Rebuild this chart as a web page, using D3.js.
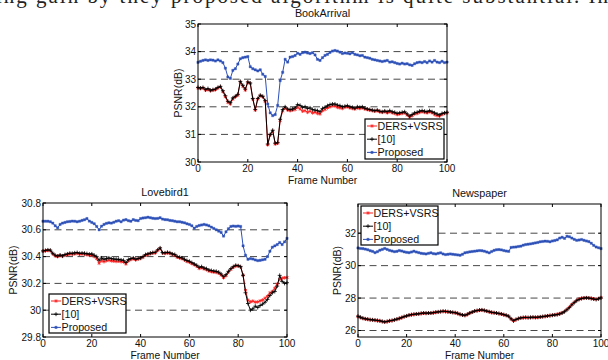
<!DOCTYPE html>
<html>
<head>
<meta charset="utf-8">
<script src="https://cdn.jsdelivr.net/npm/d3@7"></script>
<style>
  body { margin: 0; background: #fff; }
  svg { display: block; font-family: "Liberation Sans", Arial, sans-serif; }
</style>
</head>
<body>
<div id="container"></div>
<script>
// frame numbers 0..100, one marker per frame
const frames = d3.range(0, 101);
const seriesNames = ['DERS+VSRS', '[10]', 'Proposed'];
const xTicks = [0, 20, 40, 60, 80, 100];

// BookArrival
const bookDers = [32.68,32.66,32.68,32.60,32.62,32.58,32.60,32.62,32.68,32.72,32.55,32.36,32.16,32.10,32.28,32.36,32.42,32.90,32.74,32.60,
  32.88,32.84,32.28,31.88,32.28,32.40,32.36,32.20,30.62,30.98,31.12,30.65,30.68,31.50,31.85,31.95,31.88,31.86,31.88,31.90,
  31.98,31.92,31.84,31.86,31.80,31.84,31.78,31.80,31.76,31.74,31.86,31.90,31.96,32.00,32.04,32.02,31.98,31.96,31.94,31.98,
  32.00,31.96,31.94,31.92,31.96,31.94,31.96,31.92,31.90,31.88,31.86,31.84,31.86,31.82,31.80,31.82,31.78,31.82,31.78,31.76,
  31.72,31.74,31.76,31.78,31.70,31.62,31.68,31.74,31.76,31.80,31.82,31.80,31.78,31.82,31.78,31.72,31.68,31.66,31.72,31.76,31.78];
const bookRef = [32.70,32.68,32.70,32.62,32.66,32.60,32.62,32.64,32.70,32.74,32.58,32.40,32.20,32.15,32.32,32.38,32.45,32.92,32.78,32.64,
  32.90,32.86,32.30,31.90,32.30,32.42,32.38,32.22,30.65,31.00,31.15,30.68,30.70,31.55,31.90,32.00,31.92,31.90,31.92,31.96,
  32.08,32.05,31.98,32.00,31.94,31.96,31.90,31.88,31.86,31.82,31.94,31.98,32.04,32.08,32.10,32.10,32.06,32.04,32.00,32.02,
  32.04,32.00,31.98,31.95,32.00,31.98,32.00,31.95,31.92,31.90,31.88,31.86,31.88,31.84,31.82,31.85,31.82,31.86,31.82,31.80,
  31.76,31.78,31.80,31.82,31.74,31.66,31.72,31.78,31.80,31.84,31.86,31.84,31.82,31.86,31.82,31.78,31.74,31.70,31.76,31.78,31.80];
const bookProp = [33.61,33.65,33.68,33.70,33.68,33.70,33.69,33.66,33.70,33.66,33.60,33.40,33.08,33.03,33.32,33.38,33.55,33.74,33.78,33.80,
  33.82,33.45,33.38,33.34,33.30,33.34,33.18,33.10,32.10,31.78,31.68,31.72,32.05,32.95,33.25,33.72,33.62,33.80,33.82,33.86,
  33.94,33.90,33.96,33.98,33.95,33.93,33.96,33.88,33.72,33.68,33.78,33.86,33.90,33.97,34.02,34.04,34.02,33.98,33.93,33.95,
  33.94,33.92,33.96,33.90,33.88,33.85,33.86,33.80,33.78,33.76,33.72,33.70,33.68,33.66,33.64,33.66,33.68,33.62,33.63,33.60,
  33.57,33.55,33.58,33.55,33.56,33.52,33.50,33.56,33.60,33.62,33.60,33.64,33.60,33.66,33.62,33.68,33.62,33.60,33.65,33.60,33.62];

// Lovebird1
const loveDers = [30.440,30.444,30.446,30.444,30.420,30.406,30.400,30.408,30.402,30.410,30.414,30.420,30.418,30.420,30.424,30.418,30.420,30.418,30.414,30.410,
  30.412,30.400,30.385,30.350,30.370,30.362,30.370,30.372,30.368,30.366,30.364,30.366,30.362,30.360,30.345,30.368,30.378,30.384,30.376,30.382,
  30.386,30.396,30.410,30.416,30.422,30.426,30.428,30.446,30.460,30.426,30.424,30.428,30.424,30.416,30.410,30.396,30.390,30.384,30.374,30.364,
  30.358,30.348,30.338,30.328,30.312,30.318,30.308,30.302,30.292,30.288,30.284,30.282,30.276,30.262,30.242,30.258,30.284,30.305,30.320,30.330,
  30.330,30.322,30.262,30.150,30.075,30.062,30.068,30.060,30.062,30.070,30.076,30.090,30.105,30.130,30.140,30.165,30.195,30.230,30.240,30.242,30.244];
const loveRef = [30.442,30.446,30.450,30.448,30.425,30.410,30.404,30.412,30.405,30.415,30.420,30.425,30.424,30.428,30.430,30.424,30.426,30.425,30.422,30.418,
  30.420,30.410,30.400,30.373,30.390,30.380,30.385,30.390,30.385,30.382,30.380,30.380,30.375,30.372,30.356,30.378,30.385,30.390,30.380,30.386,
  30.390,30.400,30.415,30.420,30.426,30.430,30.432,30.450,30.465,30.430,30.428,30.432,30.428,30.420,30.416,30.400,30.395,30.390,30.380,30.370,
  30.365,30.355,30.345,30.335,30.320,30.325,30.315,30.310,30.300,30.296,30.292,30.290,30.284,30.270,30.250,30.265,30.290,30.310,30.325,30.335,
  30.332,30.325,30.260,30.130,30.050,30.000,30.010,30.030,30.020,30.035,30.045,30.060,30.080,30.110,30.130,30.140,30.180,30.260,30.215,30.200,30.205];
const loveProp = [30.664,30.664,30.664,30.660,30.650,30.630,30.615,30.640,30.650,30.655,30.660,30.662,30.665,30.664,30.660,30.664,30.670,30.675,30.684,30.665,
  30.655,30.645,30.625,30.600,30.627,30.640,30.648,30.652,30.650,30.656,30.664,30.668,30.660,30.672,30.676,30.668,30.664,30.676,30.670,30.668,
  30.684,30.688,30.690,30.694,30.690,30.686,30.684,30.685,30.690,30.680,30.676,30.675,30.670,30.668,30.664,30.660,30.660,30.656,30.652,30.645,
  30.640,30.630,30.612,30.625,30.632,30.636,30.640,30.636,30.630,30.620,30.610,30.600,30.590,30.580,30.553,30.585,30.608,30.625,30.628,30.626,
  30.628,30.625,30.480,30.410,30.380,30.385,30.382,30.375,30.370,30.372,30.376,30.380,30.400,30.440,30.470,30.480,30.490,30.505,30.490,30.510,30.536];

// Newspaper
const newsDers = [26.86,26.80,26.75,26.71,26.69,26.66,26.65,26.63,26.61,26.59,26.55,26.52,26.55,26.59,26.61,26.65,26.69,26.74,26.79,26.85,
  26.89,26.94,26.97,26.99,27.01,27.02,27.05,27.07,27.06,27.07,27.07,27.09,27.12,27.14,27.16,27.18,27.17,27.15,27.13,27.11,
  27.09,27.05,26.99,26.95,26.93,26.99,27.07,27.13,27.19,27.22,27.25,27.26,27.23,27.19,27.15,27.11,27.09,27.07,27.04,27.01,
  26.97,26.93,26.87,26.71,26.59,26.67,26.73,26.77,26.79,26.80,26.79,26.80,26.81,26.80,26.81,26.83,26.85,26.87,26.90,26.92,
  26.95,26.97,27.00,27.04,27.10,27.18,27.30,27.44,27.60,27.74,27.86,27.94,27.98,28.01,28.02,28.01,27.98,27.95,27.93,27.97,28.03];
const newsRef = [26.88,26.82,26.76,26.72,26.70,26.67,26.66,26.64,26.62,26.60,26.56,26.53,26.56,26.60,26.62,26.66,26.70,26.75,26.80,26.86,
  26.90,26.95,26.98,27.00,27.02,27.03,27.06,27.08,27.07,27.08,27.08,27.10,27.13,27.15,27.17,27.19,27.18,27.16,27.14,27.12,
  27.10,27.06,27.00,26.96,26.94,27.00,27.08,27.14,27.20,27.23,27.26,27.27,27.24,27.20,27.16,27.12,27.10,27.08,27.05,27.02,
  26.98,26.94,26.88,26.72,26.60,26.68,26.74,26.78,26.80,26.81,26.80,26.81,26.82,26.81,26.82,26.84,26.86,26.88,26.90,26.92,
  26.94,26.96,26.98,27.02,27.08,27.16,27.28,27.42,27.58,27.72,27.84,27.92,27.97,28.00,28.01,28.00,27.97,27.94,27.91,27.95,28.01];
const newsProp = [31.09,31.06,31.05,31.02,30.98,30.92,30.88,30.80,30.86,30.95,31.00,31.06,31.00,30.94,30.90,30.86,30.88,30.93,30.90,30.85,
  30.82,30.80,30.84,30.89,30.84,30.80,30.76,30.74,30.72,30.76,30.79,30.74,30.72,30.76,30.79,30.72,30.68,30.70,30.72,30.70,
  30.68,30.66,30.64,30.70,30.79,30.82,30.85,30.87,30.89,30.91,30.93,30.92,30.89,30.84,30.79,30.87,30.94,30.98,30.99,30.97,
  30.93,30.90,30.88,31.12,31.14,31.15,31.18,31.20,31.26,31.30,31.32,31.34,31.37,31.40,31.43,31.47,31.49,31.51,31.50,31.47,
  31.52,31.55,31.59,31.70,31.75,31.68,31.81,31.78,31.70,31.62,31.56,31.58,31.61,31.56,31.52,31.48,31.38,31.25,31.15,31.10,31.05];

const seriesStyle = [
  { color: '#ff1f1f', symbol: d3.symbolAsterisk, size: 9, fill: false },
  { color: '#000000', symbol: d3.symbolPlus, size: 6, fill: false },
  { color: '#2d50b8', symbol: d3.symbolSquare, size: 5, fill: true }
];

const svg = d3.select('#container').append('svg')
  .attr('width', 608).attr('height', 360);
svg.append('rect').attr('width', 608).attr('height', 360).attr('fill', '#fff');

// tail of the paper's text line, cut by the crop
svg.append('text')
  .attr('x', -4).attr('y', 2.5)
  .attr('font-family', '"Liberation Serif", "Times New Roman", serif')
  .attr('font-size', 21)
  .attr('fill', '#222')
  .attr('textLength', 612)
  .text('ing gain by they proposed algorithm is quite substantial. In');

function drawPanel(p) {
  const x = d3.scaleLinear().domain([0, 100]).range([p.x0, p.x1]);
  const y = d3.scaleLinear().domain(p.yDomain).range([p.y1, p.y0]);
  const g = svg.append('g');

  // dashed horizontal grid at inner ticks
  g.selectAll('line.grid')
    .data(p.yTicks.filter(t => t > p.yDomain[0] && t < p.yDomain[1]))
    .join('line')
    .attr('x1', p.x0).attr('x2', p.x1)
    .attr('y1', d => y(d)).attr('y2', d => y(d))
    .attr('stroke', '#474747').attr('stroke-width', 1)
    .attr('stroke-dasharray', '7,4.5');

  // series
  const line = d3.line().x((d, i) => x(frames[i])).y(d => y(d));
  p.series.forEach((s, k) => {
    const st = seriesStyle[k];
    g.append('path').datum(s)
      .attr('fill', 'none').attr('stroke', st.color).attr('stroke-width', 1)
      .attr('d', line);
    const sym = d3.symbol().type(st.symbol).size(st.size);
    g.selectAll(null).data(s).join('path')
      .attr('transform', (d, i) => `translate(${x(frames[i])},${y(d)})`)
      .attr('d', sym)
      .attr('fill', st.fill ? st.color : 'none')
      .attr('stroke', st.color).attr('stroke-width', st.fill ? 0.4 : 0.8);
  });

  // box
  g.append('rect')
    .attr('x', p.x0).attr('y', p.y0)
    .attr('width', p.x1 - p.x0).attr('height', p.y1 - p.y0)
    .attr('fill', 'none').attr('stroke', '#000').attr('stroke-width', 1);

  // inward ticks on all sides
  const tl = 3;
  xTicks.forEach(t => {
    g.append('line').attr('x1', x(t)).attr('x2', x(t)).attr('y1', p.y1).attr('y2', p.y1 - tl).attr('stroke', '#000');
    g.append('line').attr('x1', x(t)).attr('x2', x(t)).attr('y1', p.y0).attr('y2', p.y0 + tl).attr('stroke', '#000');
  });
  p.yTicks.forEach(t => {
    g.append('line').attr('x1', p.x0).attr('x2', p.x0 + tl).attr('y1', y(t)).attr('y2', y(t)).attr('stroke', '#000');
    g.append('line').attr('x1', p.x1).attr('x2', p.x1 - tl).attr('y1', y(t)).attr('y2', y(t)).attr('stroke', '#000');
  });

  // tick labels
  g.selectAll('text.xt').data(xTicks).join('text')
    .attr('x', d => x(d)).attr('y', p.y1 + 10)
    .attr('text-anchor', 'middle').attr('font-size', 10).attr('fill', '#111')
    .text(d => d);
  g.selectAll('text.yt').data(p.yTicks).join('text')
    .attr('x', p.x0 - 2).attr('y', d => y(d)).attr('dy', '0.36em')
    .attr('text-anchor', 'end').attr('font-size', 10).attr('fill', '#111')
    .text(d => d3.format('~g')(d));

  // titles and axis labels
  g.append('text').attr('x', (p.x0 + p.x1) / 2).attr('y', p.y0 - 7)
    .attr('text-anchor', 'middle').attr('font-size', 10.8).attr('fill', '#111')
    .text(p.title);
  g.append('text').attr('x', (p.x0 + p.x1) / 2).attr('y', p.y1 + 21.5)
    .attr('text-anchor', 'middle').attr('font-size', 10.3).attr('fill', '#111')
    .text('Frame Number');
  g.append('text')
    .attr('transform', `translate(${p.yLabelX},${(p.y0 + p.y1) / 2}) rotate(-90)`)
    .attr('text-anchor', 'middle').attr('dy', '0.36em')
    .attr('font-size', 10.5).attr('fill', '#111')
    .text('PSNR(dB)');

  // legend
  const L = p.legend;
  const lg = g.append('g').attr('transform', `translate(${L.x},${L.y})`);
  lg.append('rect').attr('width', L.w).attr('height', L.h)
    .attr('fill', '#fff').attr('stroke', '#000').attr('stroke-width', 1.2);
  seriesNames.forEach((name, k) => {
    const st = seriesStyle[k];
    const ry = 7 + k * 13.2;
    lg.append('line').attr('x1', 2).attr('x2', 12).attr('y1', ry).attr('y2', ry)
      .attr('stroke', st.color).attr('stroke-width', 1);
    lg.append('path').attr('transform', `translate(7,${ry})`)
      .attr('d', d3.symbol().type(st.symbol).size(st.size)())
      .attr('fill', st.fill ? st.color : 'none')
      .attr('stroke', st.color).attr('stroke-width', st.fill ? 0.4 : 0.8);
    lg.append('text').attr('x', 12.5).attr('y', ry).attr('dy', '0.36em')
      .attr('font-size', 10.7).attr('fill', '#111').text(name);
  });
}

drawPanel({
  title: 'BookArrival', x0: 198, x1: 447, y0: 24, y1: 162,
  yDomain: [30, 35], yTicks: [30, 31, 32, 33, 34, 35], yLabelX: 178,
  series: [bookDers, bookRef, bookProp],
  legend: { x: 365, y: 119, w: 79, h: 40 }
});
drawPanel({
  title: 'Lovebird1', x0: 43, x1: 287, y0: 203, y1: 337,
  yDomain: [29.8, 30.8], yTicks: [29.8, 30, 30.2, 30.4, 30.6, 30.8], yLabelX: 13,
  series: [loveDers, loveRef, loveProp],
  legend: { x: 49, y: 294, w: 77, h: 39 }
});
drawPanel({
  title: 'Newspaper', x0: 358, x1: 601, y0: 204, y1: 337,
  yDomain: [25.6, 33.8], yTicks: [26, 28, 30, 32], yLabelX: 337,
  series: [newsDers, newsRef, newsProp],
  legend: { x: 361, y: 206, w: 77, h: 39 }
});
</script>
</body>
</html>
